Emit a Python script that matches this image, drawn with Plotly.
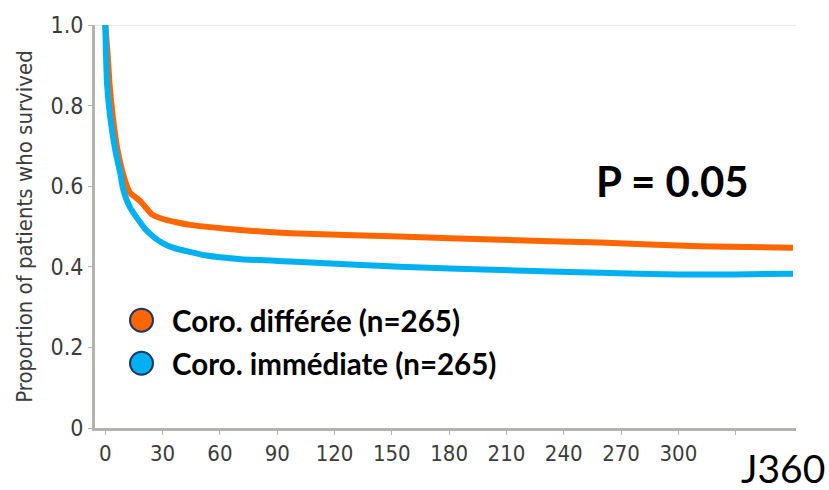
import plotly.graph_objects as go

# ---- data ----
days_deferred = [0, 1.1, 2.2, 3.9, 6.3, 9.4, 11.7, 13, 16, 18.3, 21, 24.4, 30.5, 44.5, 62, 97, 154, 207, 259, 311, 360]
surv_deferred = [1.0, 0.935, 0.854, 0.773, 0.692, 0.628, 0.595, 0.583, 0.572, 0.563, 0.548, 0.530, 0.518, 0.504,
                 0.495, 0.483, 0.475, 0.467, 0.460, 0.451, 0.447]
days_immediate = [0, 0.3, 0.9, 2.5, 5.1, 8, 9.2, 11, 13, 16, 18.3, 21, 25.3, 30, 35.8, 53, 71, 97, 154, 207, 259,
                  300, 330, 360]
surv_immediate = [1.0, 0.935, 0.854, 0.773, 0.692, 0.628, 0.595, 0.568, 0.547, 0.525, 0.510, 0.493, 0.474, 0.459,
                  0.447, 0.428, 0.419, 0.413, 0.40, 0.392, 0.385, 0.381, 0.381, 0.383]
series_names = ["Coro. différée (n=265)", "Coro. immédiate (n=265)"]
x_ticks = [0, 30, 60, 90, 120, 150, 180, 210, 240, 270, 300, 330]
# the last tick label is hidden behind the "J360" label in the reference
x_tick_labels = ["0", "30", "60", "90", "120", "150", "180", "210", "240", "270", "300", ""]
y_ticks = [0, 0.2, 0.4, 0.6, 0.8, 1.0]
y_tick_labels = ["0", "0.2", "0.4", "0.6", "0.8", "1.0"]
p_value_text = "P = 0.05"
horizon_text = "J360"

ORANGE = "#FF6600"
BLUE = "#00B0F0"
NAVY = "#1F3864"
AXIS = "#B4B4AF"
TXT = "#3C3C3C"
COND = "DejaVu Sans Condensed, DejaVu Sans, sans-serif"

W, H = 829, 490
L, R, T, B = 95, 33, 17, 62
pw, ph = W - L - R, H - T - B


def px(x):
    return (x - L) / pw


def py(y):
    return (H - B - y) / ph


fig = go.Figure()
fig.add_trace(go.Scatter(x=days_deferred, y=surv_deferred, mode="lines", name=series_names[0],
                         line=dict(color=ORANGE, width=6, shape="spline", smoothing=0.5),
                         showlegend=False, hoverinfo="skip"))
fig.add_trace(go.Scatter(x=days_immediate, y=surv_immediate, mode="lines", name=series_names[1],
                         line=dict(color=BLUE, width=6, shape="spline", smoothing=0.5),
                         showlegend=False, hoverinfo="skip"))

shapes = [
    dict(type="line", xref="paper", yref="y", x0=0, x1=1, y0=1, y1=1,
         line=dict(color="#E4E4E4", width=1.5), layer="below"),
]
annotations = []
legend_rows = [(318, ORANGE, series_names[0]), (362, BLUE, series_names[1])]
for yc, col, name in legend_rows:
    shapes.append(dict(type="circle", xref="paper", yref="paper", xsizemode="pixel", ysizemode="pixel",
                       xanchor=px(141.5), yanchor=py(yc), x0=-11.5, x1=11.5, y0=-11.5, y1=11.5,
                       fillcolor=col, line=dict(color=NAVY, width=2)))
    annotations.append(dict(xref="paper", yref="paper", x=px(170), y=py(yc), xanchor="left", yanchor="middle",
                            text="<b>" + name + "</b>", showarrow=False,
                            font=dict(family="Lato", size=29.5, color="#000000")))

annotations.append(dict(xref="paper", yref="paper", x=px(672.5), y=py(176), xanchor="center", yanchor="middle",
                        text="<b>" + p_value_text + "</b>", showarrow=False,
                        font=dict(family="Lato", size=42, color="#000000")))
annotations.append(dict(xref="paper", yref="paper", x=px(783), y=py(469), xanchor="center", yanchor="middle",
                        text=horizon_text, showarrow=False,
                        font=dict(family="Lato", size=39, color="#000000")))

fig.update_layout(
    width=W, height=H,
    margin=dict(l=L, r=R, t=T, b=B),
    paper_bgcolor="white", plot_bgcolor="white",
    shapes=shapes, annotations=annotations,
    showlegend=False,
    xaxis=dict(range=[-5.4, 361.6], tickmode="array", tickvals=x_ticks, ticktext=x_tick_labels,
               showgrid=False, zeroline=False, showline=True, linecolor=AXIS, linewidth=3,
               ticks="outside", ticklen=4, tickwidth=1, tickcolor=AXIS,
               tickfont=dict(family=COND, size=22, color=TXT)),
    yaxis=dict(range=[0, 1], tickmode="array", tickvals=y_ticks, ticktext=y_tick_labels,
               showgrid=False, zeroline=False, showline=True, linecolor=AXIS, linewidth=3,
               ticks="outside", ticklen=4, tickwidth=1, tickcolor=AXIS,
               tickfont=dict(family=COND, size=23, color=TXT),
               title=dict(text="Proportion of patients who survived", standoff=12,
                          font=dict(family=COND, size=22, color=TXT))),
)

fig.write_html("out.html")
